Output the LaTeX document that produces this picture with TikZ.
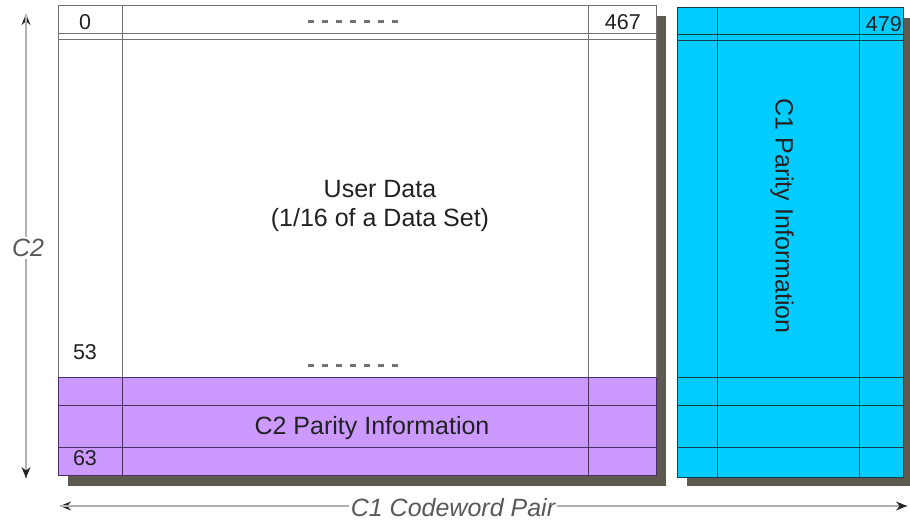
\documentclass[tikz,border=0pt]{standalone}
\usepackage{fontspec}
\setmainfont{Liberation Sans}
\usetikzlibrary{arrows.meta}
\definecolor{shadowc}{HTML}{5F5A50}
\definecolor{purplec}{HTML}{CC99FF}
\definecolor{cyanc}{HTML}{00CCFF}
\definecolor{gridgray}{HTML}{707070}
\definecolor{purpleline}{HTML}{4A2E66}
\definecolor{cyanline}{HTML}{143E50}
\definecolor{labelgray}{HTML}{222222}
\tikzset{
  lbl/.style={inner sep=0pt, font=\fontsize{25}{29}\selectfont, text=labelgray},
  num/.style={inner sep=0pt, font=\fontsize{21.5}{24}\selectfont, text=labelgray},
  axislbl/.style={inner sep=2pt, fill=white, font=\fontsize{25}{29}\selectfont\itshape, text=black!65},
  gridw/.style={draw=gridgray, line width=1pt},
  gridp/.style={draw=purpleline, line width=1pt},
  gridc/.style={draw=cyanline, line width=1pt},
  dots/.style={draw=black!55, line width=3pt, dash pattern=on 6pt off 8pt},
  axis/.style={draw=gray!60, line width=1.2pt, -{Stealth[length=11pt,width=9pt,black!85]}},
}
\begin{document}
\begin{tikzpicture}[x=1pt,y=-1pt]
\useasboundingbox (0,0) rectangle (910,521);
% left block
\fill[shadowc] (68,16) rectangle (666,486);
\fill[white] (58,6) rectangle (656,377);
\fill[purplec] (58,377) rectangle (656,475);
\draw[gridw] (58,6) rectangle (656,377);
\draw[gridw] (58,34) -- (656,34);
\draw[gridw] (58,40) -- (656,40);
\draw[gridp] (58,377) rectangle (656,475);
\draw[gridp] (58,405) -- (656,405);
\draw[gridp] (58,447) -- (656,447);
\draw[gridw] (122,6) -- (122,377);
\draw[gridw] (588,6) -- (588,377);
\draw[gridp] (122,377) -- (122,475);
\draw[gridp] (588,377) -- (588,475);
% right block
\fill[shadowc] (687,18) rectangle (910,486);
\fill[cyanc] (677,8) rectangle (903,477);
\draw[gridc] (677,8) rectangle (903,477);
\foreach \yy in {35,41,377,405,447} \draw[gridc] (677,\yy) -- (903,\yy);
\draw[gridc] (717,8) -- (717,477);
\draw[gridc] (859,8) -- (859,477);
% labels
\node[num] (n0) at (85,22) {0};
\node[num, anchor=east] (n467) at (641,22) {467};
\node[num, anchor=east] (n479) at (902,24) {479};
\node[num] (n53) at (85,352) {53};
\node[num] (n63) at (85,458) {63};
\coordinate (d1a) at (308,22); \coordinate (d1b) at (400,22);
\coordinate (d2a) at (308,365); \coordinate (d2b) at (400,365);
\draw[dots] (d1a) -- (d1b);
\draw[dots] (d2a) -- (d2b);
\node[lbl, align=center] (ud) at (380,206) {User Data\\(1/16 of a Data Set)};
\node[lbl] (c2p) at (372,428) {C2 Parity Information};
\node[lbl, rotate=-90] (c1p) at (782,216) {C1 Parity Information};
% axes
\coordinate (vtop) at (26,14);
\coordinate (vbot) at (26,478);
\draw[axis] (vbot) -- (vtop);
\draw[axis] (vtop) -- (vbot);
\node[axislbl] (c2) at (28,248) {C2};
\coordinate (hl) at (60,506);
\coordinate (hr) at (907,506);
\draw[axis] (hr) -- (hl);
\draw[axis] (hl) -- (hr);
\node[axislbl] (c1cw) at (453,508) {C1 Codeword Pair};
\end{tikzpicture}
\end{document}
